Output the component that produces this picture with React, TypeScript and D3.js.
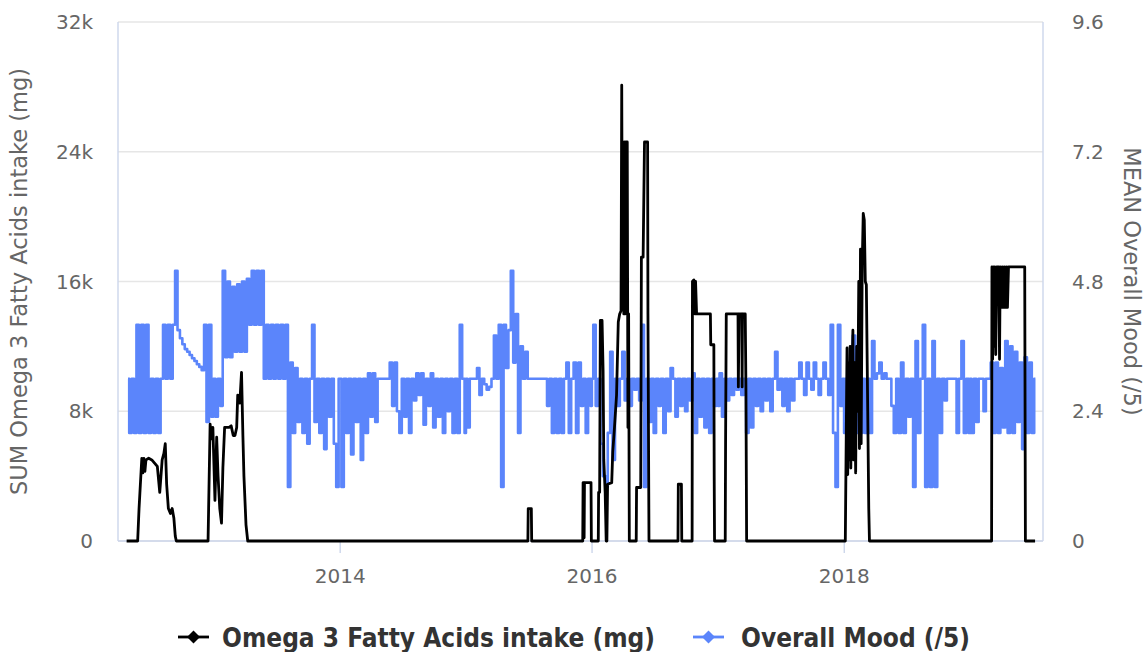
import React from 'react'
import * as d3 from 'd3'

// weekly mood means (/5), one array per calendar year
const mood2012 = [3, 2, 3, 2, 4, 2, 4, 2, 4, 2, 3, 2, 3, 2, 3, 4, 3, 4, 3, 4, 5, 3.9, 3.75, 3.64, 3.55, 3.5, 3.44, 3.38, 3.33, 3.27, 3.22, 3.16, 4, 2.2, 4, 2.3]
const mood2013 = [3, 2.3, 3, 2.5, 5, 3.4, 4.8, 3.4, 4.7, 3.5, 4.75, 3.5, 4.8, 3.5, 4.85, 4, 5, 4, 5, 4, 5, 3, 4, 3, 4, 3, 4, 3, 4, 3, 4, 1, 3.3, 2, 3.2, 2.2, 3, 2, 3, 1.8, 3, 4, 2.2, 3, 2, 3, 1.7, 3, 2.3, 3, 1.8, 1, 3]
const mood2014 = [3, 1, 3, 2, 3, 1.6, 3, 2.2, 3, 1.5, 3, 2, 3.1, 2.3, 3.1, 2.2, 3, 3, 3, 3, 3, 3.3, 2.5, 3.3, 2.4, 2, 3, 2.3, 3, 2, 3, 2.6, 3.1, 2.7, 3.1, 2.15, 3, 2.5, 3.1, 2.1, 3, 2.3, 3, 2, 3, 2.4, 3, 2, 3, 2, 4, 3, 2]
const mood2015 = [3, 2.1, 3, 3, 3, 3.2, 2.7, 3, 2.9, 2.8, 2.85, 3, 3.8, 3, 4, 1, 4, 3.2, 3.9, 5, 3.3, 4.2, 2, 3.6, 3, 3.5, 3, 3, 3, 3, 3, 3, 3, 3, 2.5, 3, 2, 3, 2, 3, 2, 3, 3.3, 2, 3, 3.3, 2, 3.3, 2.5, 3, 2, 3, 2.5]
const mood2016 = [3, 4, 2.5, 3, 1.8, 1.2, 1, 2, 3.5, 1.5, 3, 2.5, 3, 3.5, 2.6, 3, 2.5, 3, 2.8, 3, 2.6, 4, 1, 3, 2.2, 3, 2, 3, 2.5, 3, 2, 3, 2.4, 3.2, 3, 2.3, 3, 2.5, 3, 2.4, 3, 2.6, 3.1, 2, 3, 2.3, 3, 2.1, 3, 2, 3, 2.5, 3]
const mood2017 = [2.5, 3.1, 2.3, 3, 2.6, 3, 2.7, 3, 2.8, 3, 2.7, 3, 2, 3, 2.1, 3, 2.5, 3, 2.4, 3, 2.6, 3, 2.4, 3, 3.5, 2.8, 3, 2.5, 3, 2.4, 3, 2.6, 3, 3, 3.3, 3, 2.7, 3.3, 3, 2.8, 3.3, 3, 2.7, 3, 3.3, 3, 2.7, 4, 2, 1, 4, 2.5, 3]
const mood2018 = [2, 3, 2, 3, 3.8, 2, 3, 2, 3, 2, 3, 2, 3.7, 3, 3.1, 3.3, 3, 3.1, 3, 3, 2.5, 2, 3, 2, 3.3, 2, 3, 2.3, 3, 1, 3.7, 2, 3, 4, 1, 3, 1, 3.7, 1, 3, 2, 3, 2.6, 3, 3, 3, 3, 2, 3, 3.7, 2, 3, 2]
const mood2019 = [3, 2, 3, 2.2, 3, 3, 2.4, 3, 3, 3.3, 2, 3.3, 2, 3.2, 2.1, 3.7, 2, 3.6, 2, 3.5, 2.2, 3.3, 1.7, 3.4, 2, 3.3, 2, 3]
const moodStarts = ['2012-04-26', '2013-01-01', '2014-01-01', '2015-01-01', '2016-01-01', '2017-01-01', '2018-01-01', '2019-01-01']

// omega 3 intake (mg), turning points of each episode
const omega2012 = [['2012-04-22', 0], ['2012-05-24', 0], ['2012-05-28', 2000], ['2012-06-05', 5100], ['2012-06-08', 4200], ['2012-06-11', 5100], ['2012-06-14', 4300], ['2012-06-17', 5000], ['2012-06-25', 5100], ['2012-07-04', 5000], ['2012-07-12', 4800], ['2012-07-20', 4600], ['2012-07-27', 3000], ['2012-08-03', 5000], ['2012-08-08', 5400], ['2012-08-12', 6000], ['2012-08-16', 3500], ['2012-08-21', 2000], ['2012-08-27', 1700], ['2012-09-01', 2000], ['2012-09-06', 1400], ['2012-09-10', 300], ['2012-09-13', 0]]
const omega2013 = [['2012-12-14', 0], ['2012-12-20', 7200], ['2012-12-24', 6300], ['2012-12-28', 7000], ['2013-01-03', 2500], ['2013-01-08', 6400], ['2013-01-12', 4000], ['2013-01-17', 2000], ['2013-01-22', 1100], ['2013-01-26', 4500], ['2013-01-31', 7000], ['2013-02-13', 7000], ['2013-02-19', 7100], ['2013-02-25', 6500], ['2013-03-02', 6500], ['2013-03-07', 7000], ['2013-03-10', 9000], ['2013-03-16', 8500], ['2013-03-21', 10400], ['2013-03-25', 6500], ['2013-03-28', 4000], ['2013-04-03', 1000], ['2013-04-08', 0]]
const omega2015 = [['2015-06-29', 0], ['2015-06-30', 2000], ['2015-07-09', 2000], ['2015-07-10', 0], ['2015-12-05', 0], ['2015-12-06', 3600], ['2015-12-08', 3600], ['2015-12-09', 200], ['2015-12-10', 3600], ['2015-12-29', 3600], ['2015-12-30', 0]]
const omega2016 = [['2016-01-19', 0], ['2016-01-20', 3000], ['2016-01-23', 3000], ['2016-01-25', 13600], ['2016-01-30', 13600], ['2016-02-02', 10500], ['2016-02-04', 5000], ['2016-02-08', 3000], ['2016-02-11', 0], ['2016-02-13', 0], ['2016-02-15', 3500], ['2016-02-27', 3600], ['2016-03-01', 5500], ['2016-03-06', 7000], ['2016-03-12', 9000], ['2016-03-17', 13500], ['2016-03-21', 14000], ['2016-03-25', 14200], ['2016-03-27', 28100], ['2016-03-29', 14500], ['2016-03-31', 24600], ['2016-04-02', 14000], ['2016-04-04', 24600], ['2016-04-06', 14000], ['2016-04-08', 24600], ['2016-04-12', 24600], ['2016-04-14', 7000], ['2016-04-16', 14000], ['2016-04-18', 0], ['2016-05-08', 0], ['2016-05-09', 3300], ['2016-05-21', 3300], ['2016-05-23', 17500], ['2016-05-28', 17500], ['2016-06-01', 24600], ['2016-06-10', 24600], ['2016-06-11', 14000], ['2016-06-14', 0], ['2016-09-06', 0], ['2016-09-07', 3500], ['2016-09-16', 3500], ['2016-09-17', 0], ['2016-10-17', 0], ['2016-10-18', 16000], ['2016-10-22', 16100], ['2016-10-25', 14000], ['2016-10-27', 16000], ['2016-10-30', 14000], ['2016-12-09', 14000], ['2016-12-10', 12100], ['2016-12-19', 12100], ['2016-12-20', 4000], ['2016-12-21', 0]]
const omega2017 = [['2017-01-21', 0], ['2017-01-22', 6100], ['2017-01-24', 14000], ['2017-02-27', 14000], ['2017-02-28', 9500], ['2017-03-02', 14000], ['2017-03-10', 14000], ['2017-03-11', 9500], ['2017-03-12', 14000], ['2017-03-20', 14000], ['2017-03-22', 9400], ['2017-03-24', 0]]
const omega2018 = [['2018-01-04', 0], ['2018-01-09', 11900], ['2018-01-11', 4100], ['2018-01-13', 11000], ['2018-01-15', 5000], ['2018-01-18', 12000], ['2018-01-20', 4500], ['2018-01-23', 10000], ['2018-01-26', 13000], ['2018-01-28', 5000], ['2018-01-31', 11000], ['2018-02-03', 4200], ['2018-02-06', 12000], ['2018-02-09', 8000], ['2018-02-12', 16000], ['2018-02-14', 5700], ['2018-02-17', 18000], ['2018-02-19', 6000], ['2018-02-22', 17000], ['2018-02-25', 20200], ['2018-02-28', 19800], ['2018-03-03', 16000], ['2018-03-06', 15800], ['2018-03-10', 8000], ['2018-03-13', 2000], ['2018-03-15', 0]]
const omega2019 = [['2019-03-04', 0], ['2019-03-05', 16900], ['2019-03-07', 11200], ['2019-03-09', 16900], ['2019-03-11', 12000], ['2019-03-13', 16900], ['2019-03-16', 11500], ['2019-03-19', 16900], ['2019-03-25', 16900], ['2019-03-27', 11200], ['2019-03-29', 16900], ['2019-04-01', 14400], ['2019-04-04', 16900], ['2019-04-07', 14400], ['2019-04-10', 16900], ['2019-04-13', 14400], ['2019-04-16', 16900], ['2019-04-19', 14400], ['2019-04-22', 16900], ['2019-06-08', 16900], ['2019-06-10', 0], ['2019-07-08', 0]]

const leftTicks = [0, 8000, 16000, 24000, 32000]
const rightTicks = [0, 2.4, 4.8, 7.2, 9.6]
const dateDomain = ['2012-03-28', '2019-07-31']

const width = 1145
const height = 652
const plot = { left: 118, right: 1043, top: 22, bottom: 541 }
const BLUE = '#5b85fb'
const FONT = '"DejaVu Sans", Verdana, sans-serif'

const parse = d3.timeParse('%Y-%m-%d')

export default function App() {
    const x = d3.scaleTime()
        .domain(dateDomain.map(d => parse(d)))
        .range([plot.left, plot.right])
    const yLeft = d3.scaleLinear().domain([0, 32000]).range([plot.bottom, plot.top])
    const yRight = d3.scaleLinear().domain([0, 9.6]).range([plot.bottom, plot.top])

    const moodArrays = [mood2012, mood2013, mood2014, mood2015, mood2016, mood2017, mood2018, mood2019]
    const moodData = moodArrays.flatMap((arr, k) => {
        const start = parse(moodStarts[k])
        return arr.map((v, i) => ({ date: d3.timeDay.offset(start, 7 * i), value: v }))
    })
    const omegaData = [omega2012, omega2013, omega2015, omega2016, omega2017, omega2018, omega2019]
        .flat()
        .map(([d, v]) => ({ date: parse(d), value: v }))
        .sort((a, b) => a.date - b.date)

    // daily readings drawn as near-vertical strokes
    const moodLine = d3.line().curve(d3.curveStep).x(d => x(d.date)).y(d => yRight(d.value))
    const omegaLine = d3.line().x(d => x(d.date)).y(d => yLeft(d.value))

    const xTicks = x.ticks(d3.timeYear.every(2))
    const fmt = d3.timeFormat('%Y')
    const kFmt = v => (v === 0 ? '0' : `${v / 1000}k`)
    const midY = (plot.top + plot.bottom) / 2

    return (
        <div style={{ position: 'absolute', left: 0, top: 0 }}>
            <svg width={width} height={height} style={{ display: 'block', background: '#fff' }}>
                {/* grid */}
                {leftTicks.map(t => (
                    <line key={t} x1={plot.left} x2={plot.right} y1={yLeft(t)} y2={yLeft(t)} stroke="#e6e6e6" strokeWidth={1.4} />
                ))}
                <line x1={plot.left} x2={plot.left} y1={plot.top} y2={plot.bottom} stroke="#ccd6eb" strokeWidth={1.4} />
                <line x1={plot.right} x2={plot.right} y1={plot.top} y2={plot.bottom} stroke="#ccd6eb" strokeWidth={1.4} />
                <line x1={plot.left} x2={plot.right} y1={plot.bottom} y2={plot.bottom} stroke="#ccd6eb" strokeWidth={1.4} />
                {xTicks.map(t => (
                    <g key={+t}>
                        <line x1={x(t)} x2={x(t)} y1={plot.bottom} y2={plot.bottom + 12} stroke="#ccd6eb" strokeWidth={1.4} />
                        <text x={x(t)} y={plot.bottom + 42} textAnchor="middle" fontFamily={FONT} fontSize={20} fill="#666">{fmt(t)}</text>
                    </g>
                ))}
                {leftTicks.map(t => (
                    <text key={t} x={plot.left - 25} y={yLeft(t) + 7} textAnchor="end" fontFamily={FONT} fontSize={20} fill="#666">{kFmt(t)}</text>
                ))}
                {rightTicks.map(t => (
                    <text key={t} x={plot.right + 29} y={yRight(t) + 7} textAnchor="start" fontFamily={FONT} fontSize={20} fill="#666">{t}</text>
                ))}
                <text transform={`translate(27,${midY}) rotate(-90)`} textAnchor="middle" fontFamily={FONT} fontSize={22.5} fill="#666">SUM Omega 3 Fatty Acids intake (mg)</text>
                <text transform={`translate(1124,${midY}) rotate(90)`} textAnchor="middle" fontFamily={FONT} fontSize={22.5} fill="#666">MEAN Overall Mood (/5)</text>

                {/* series */}
                <path d={moodLine(moodData)} fill="none" stroke={BLUE} strokeWidth={2.6} strokeLinejoin="round" />
                <path d={omegaLine(omegaData)} fill="none" stroke="#000" strokeWidth={2.8} strokeLinejoin="round" />

                {/* legend */}
                <g fontFamily='"DejaVu Sans Condensed", "DejaVu Sans", sans-serif' fontWeight="bold" fontSize={26} fill="#333">
                    <line x1={178} x2={209} y1={637} y2={637} stroke="#000" strokeWidth={2.8} />
                    <path d="M193.5,630.5 L200,637 L193.5,643.5 L187,637 Z" fill="#000" />
                    <text x={222} y={647}>Omega 3 Fatty Acids intake (mg)</text>
                    <line x1={693} x2={724} y1={637} y2={637} stroke={BLUE} strokeWidth={2.8} />
                    <path d="M708.5,630.5 L715,637 L708.5,643.5 L702,637 Z" fill={BLUE} />
                    <text x={741} y={647}>Overall Mood (/5)</text>
                </g>
            </svg>
        </div>
    )
}
